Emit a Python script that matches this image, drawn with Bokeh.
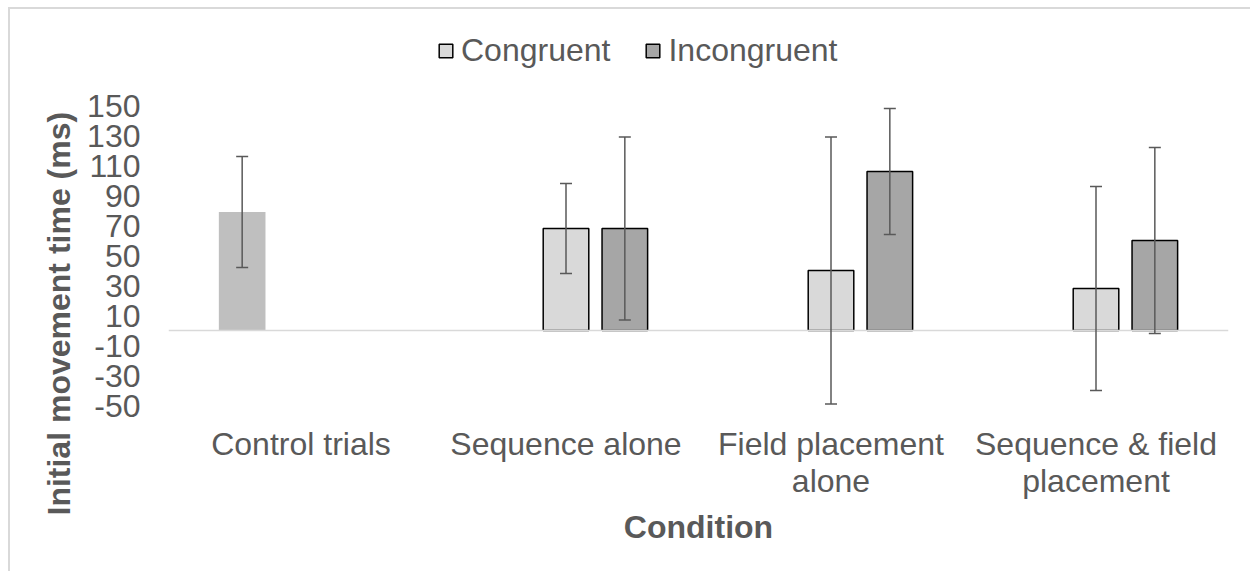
from bokeh.plotting import figure
from bokeh.models import (FactorRange, ColumnDataSource, Whisker, TeeHead, Span,
                          Legend, LegendItem, FixedTicker, Title, CategoricalAxis,
                          CustomJSTickFormatter)
from bokeh.transform import dodge
from bokeh.embed import file_html
from bokeh.resources import INLINE

# ---------------- data ----------------
categories = ["Control trials", "Sequence alone", "Field placement alone",
              "Sequence & field placement"]
label_line1 = ["Control trials", "Sequence alone", "Field placement", "Sequence & field"]
label_line2 = ["", "", "alone", "placement"]

control_categories = ["Control trials"]
control_mean = [79]
control_err = [37]

paired_categories = ["Sequence alone", "Field placement alone", "Sequence & field placement"]
congruent_mean = [68, 40, 28]
congruent_err = [30, 89, 68]
incongruent_mean = [68, 106, 60]
incongruent_err = [61, 42, 62]

y_ticks = [-50, -30, -10, 10, 30, 50, 70, 90, 110, 130, 150]
series_names = ["Congruent", "Incongruent"]
y_title = "Initial movement time (ms)"
x_title = "Condition"

# ---------------- style ----------------
FONT = "Liberation Sans"
TXT = "#595959"
FS = "32px"

# frame: x 168..1228, y 20..405 (page px); 1.5 px per ms
y_top = 150 + (105 - 20) / 1.5

p = figure(x_range=FactorRange(*categories, range_padding=0), y_range=(-50, y_top),
           width=1242, height=564, output_backend="svg", toolbar_location=None,
           min_border_left=158, min_border_top=11, min_border_right=24,
           min_border_bottom=168)
p.margin = (7, 0, 0, 8)
p.styles = {"border-top": "2px solid #d9d9d9", "border-left": "2px solid #d9d9d9"}
p.outline_line_color = None
p.xgrid.visible = False
p.ygrid.visible = False

# y axis
p.yaxis.ticker = FixedTicker(ticks=y_ticks)
p.yaxis.major_label_overrides = {t: str(t) for t in y_ticks}
p.yaxis.axis_line_color = None
p.yaxis.major_tick_line_color = None
p.yaxis.minor_tick_line_color = None
p.yaxis.major_tick_out = 0
p.yaxis.major_tick_in = 0
p.yaxis.major_label_standoff = 28
p.yaxis.major_label_text_font = FONT
p.yaxis.major_label_text_font_size = FS
p.yaxis.major_label_text_color = TXT


def style_cat_axis(ax, standoff, labels):
    ax.axis_line_color = None
    ax.major_tick_line_color = None
    ax.minor_tick_line_color = None
    ax.major_tick_out = 0
    ax.major_tick_in = 0
    ax.major_label_standoff = standoff
    ax.major_label_text_font = FONT
    ax.major_label_text_font_size = FS
    ax.major_label_text_color = TXT
    ax.formatter = CustomJSTickFormatter(
        args=dict(cats=categories, labs=labels),
        code="const i = cats.indexOf(tick); return i >= 0 ? labs[i] : tick;")


# x axis: first line of the category labels
xa1 = p.xaxis[0]
style_cat_axis(xa1, 20, label_line1)

# second line of the category labels + axis title
xa2 = CategoricalAxis()
style_cat_axis(xa2, -2, label_line2)
xa2.axis_label = x_title
xa2.axis_label_text_font = FONT
xa2.axis_label_text_font_size = FS
xa2.axis_label_text_font_style = "bold"
xa2.axis_label_text_color = TXT
xa2.axis_label_standoff = 7
p.add_layout(xa2, "below")

OFF = 0.222
W = 0.172

src_ctrl = ColumnDataSource(dict(
    cat=control_categories, mean=control_mean,
    upper=[m + e for m, e in zip(control_mean, control_err)],
    lower=[m - e for m, e in zip(control_mean, control_err)]))
src_con = ColumnDataSource(dict(
    cat=paired_categories, mean=congruent_mean,
    upper=[m + e for m, e in zip(congruent_mean, congruent_err)],
    lower=[m - e for m, e in zip(congruent_mean, congruent_err)]))
src_inc = ColumnDataSource(dict(
    cat=paired_categories, mean=incongruent_mean,
    upper=[m + e for m, e in zip(incongruent_mean, incongruent_err)],
    lower=[m - e for m, e in zip(incongruent_mean, incongruent_err)]))

r_ctrl = p.vbar(x=dodge("cat", -OFF, range=p.x_range), top="mean", bottom=0, width=W + 0.004,
                source=src_ctrl, fill_color="#bfbfbf", line_color=None)
r_con = p.vbar(x=dodge("cat", 0, range=p.x_range), top="mean", bottom=0, width=W,
               source=src_con, fill_color="#d9d9d9", line_color="black", line_width=1.5)
r_inc = p.vbar(x=dodge("cat", OFF, range=p.x_range), top="mean", bottom=0, width=W,
               source=src_inc, fill_color="#a6a6a6", line_color="black", line_width=1.5)

zero = Span(location=0, dimension="width", line_color="#d9d9d9", line_width=1.5, level="overlay")
p.add_layout(zero)

for src, off in [(src_ctrl, -OFF), (src_con, 0), (src_inc, OFF)]:
    w = Whisker(base=dodge("cat", off, range=p.x_range), upper="upper", lower="lower",
                source=src, line_color="#595959", line_width=1.5, level="overlay",
                upper_head=TeeHead(size=12, line_color="#595959", line_width=1.5),
                lower_head=TeeHead(size=12, line_color="#595959", line_width=1.5))
    p.add_layout(w)

legend = Legend(items=[LegendItem(label=series_names[0], renderers=[r_con]),
                       LegendItem(label=series_names[1], renderers=[r_inc])],
                orientation="horizontal", location=(269, 336),
                border_line_color=None, background_fill_alpha=0,
                padding=0, margin=0, glyph_width=17, glyph_height=17,
                label_standoff=7, spacing=34,
                label_text_font=FONT, label_text_font_size=FS, label_text_color=TXT)
p.add_layout(legend)

ytitle = Title(text=y_title, align="left", offset=-110, standoff=16,
               text_font=FONT, text_font_size=FS, text_font_style="bold",
               text_color=TXT)
p.add_layout(ytitle, "left")

open("out.html", "w").write(file_html(p, INLINE))
